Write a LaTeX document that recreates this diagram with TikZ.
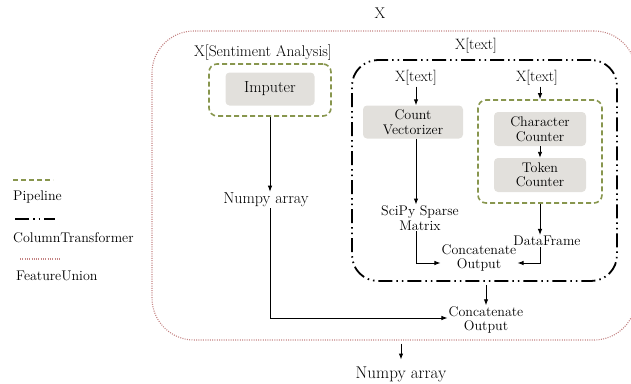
\documentclass[tikz,border=0pt]{standalone}
\usetikzlibrary{arrows.meta}

\definecolor{pipegreen}{RGB}{136,150,78}
\definecolor{unionpink}{RGB}{196,132,132}
\definecolor{boxgray}{RGB}{226,224,220}

\begin{document}
\begin{tikzpicture}[x=1pt,y=-1pt,
    txt/.style={font=\fontsize{14}{14.5}\selectfont, align=center, inner sep=1pt},
    bigtxt/.style={txt, font=\fontsize{15.5}{16}\selectfont},
    stepbox/.style={txt, fill=boxgray, rounded corners=4pt},
    pipe/.style={draw=pipegreen, line width=1.6pt, dash pattern=on 5pt off 3pt, rounded corners=8pt},
    coltrans/.style={draw=black, line width=1.8pt, dash pattern=on 14pt off 4pt on 1.5pt off 4pt on 1.5pt off 4pt, rounded corners=26pt},
    union/.style={draw=unionpink, line width=1.1pt, dash pattern=on 1pt off 1.3pt, rounded corners=42pt},
    flow/.style={-{Latex[length=6pt,width=4.5pt]}, line width=0.9pt}]
   \useasboundingbox (0,0) rectangle (631,383);

   % legend
   \draw[pipe] (13,180) -- (53,180);
   \node[txt, right] (lpipe) at (12,197) {Pipeline};
   \draw[coltrans] (15,219) -- (55,219);
   \node[txt, right] (lcol) at (12,238) {ColumnTransformer};
   \draw[union] (20,259) -- (60,259);
   \node[txt, right] (lunion) at (15,276) {FeatureUnion};

   % containers
   \node[union, minimum width=484, minimum height=309] (union) at (394,185.5) {};
   \node[coltrans, minimum width=265, minimum height=221] (ct) at (484.5,170.5) {};
   \node[pipe, minimum width=122, minimum height=52] (pipe1) at (270,90) {};
   \node[pipe, minimum width=124, minimum height=103] (pipe2) at (540,151.5) {};

   \node[bigtxt] (x) at (380,13) {X};
   \node[bigtxt] (xsa) at (263,53) {X[Sentiment Analysis]};
   \node[bigtxt, font=\fontsize{15}{16}\selectfont] (xt) at (476,46) {X[text]};
   \node[bigtxt, font=\fontsize{15}{16}\selectfont] (xt1) at (416,78) {X[text]};
   \node[bigtxt, font=\fontsize{15}{16}\selectfont] (xt2) at (537,78) {X[text]};

   % steps
   \node[stepbox, font=\fontsize{16}{16}\selectfont, minimum width=89, minimum height=33] (imp) at (270,89) {Imputer};
   \node[stepbox, minimum width=100, minimum height=33] (cv) at (413,122) {Count\\Vectorizer};
   \node[stepbox, minimum width=92, minimum height=34] (cc) at (540,129) {Character\\Counter};
   \node[stepbox, minimum width=92, minimum height=34] (tc) at (540,175) {Token\\Counter};

   % outputs
   \node[txt, font=\fontsize{16}{16}\selectfont] (np) at (266,200) {Numpy array};
   \node[txt] (sp) at (420,218) {SciPy Sparse\\Matrix};
   \node[txt] (df) at (547,241) {DataFrame};
   \node[txt] (cat1) at (479,258) {Concatenate\\Output};
   \node[txt] (cat2) at (486,320) {Concatenate\\Output};
   \node[txt, font=\fontsize{17}{17}\selectfont] (np2) at (401,374) {Numpy array};

   % arrows
   \draw[flow] (pipe1.south) -- (pipe1.south |- np.north);
   \draw[flow] (np.south -| pipe1.south) |- ([yshift=2pt]cat2.west);

   \draw[flow] (xt1.south) -- (xt1.south |- cv.north);
   \draw[flow] (cv.south -| xt1.south) -- (xt1.south |- sp.north);
   \draw[flow] (sp.south -| xt1.south) |- ([yshift=-5pt]cat1.west);

   \draw[flow] (xt2.south -| pipe2.north) -- (pipe2.north);
   \draw[flow] (cc) -- (tc);
   \draw[flow] (pipe2.south) -- (pipe2.south |- df.north);
   \draw[flow] (df.south -| pipe2.south) |- ([yshift=-5pt]cat1.east);

   \draw[flow] ([yshift=-3pt]ct.south -| cat2.north) -- (cat2.north);
   \draw[flow] ([yshift=-3pt]union.south -| np2.north) -- ++(0,16);
\end{tikzpicture}
\end{document}
